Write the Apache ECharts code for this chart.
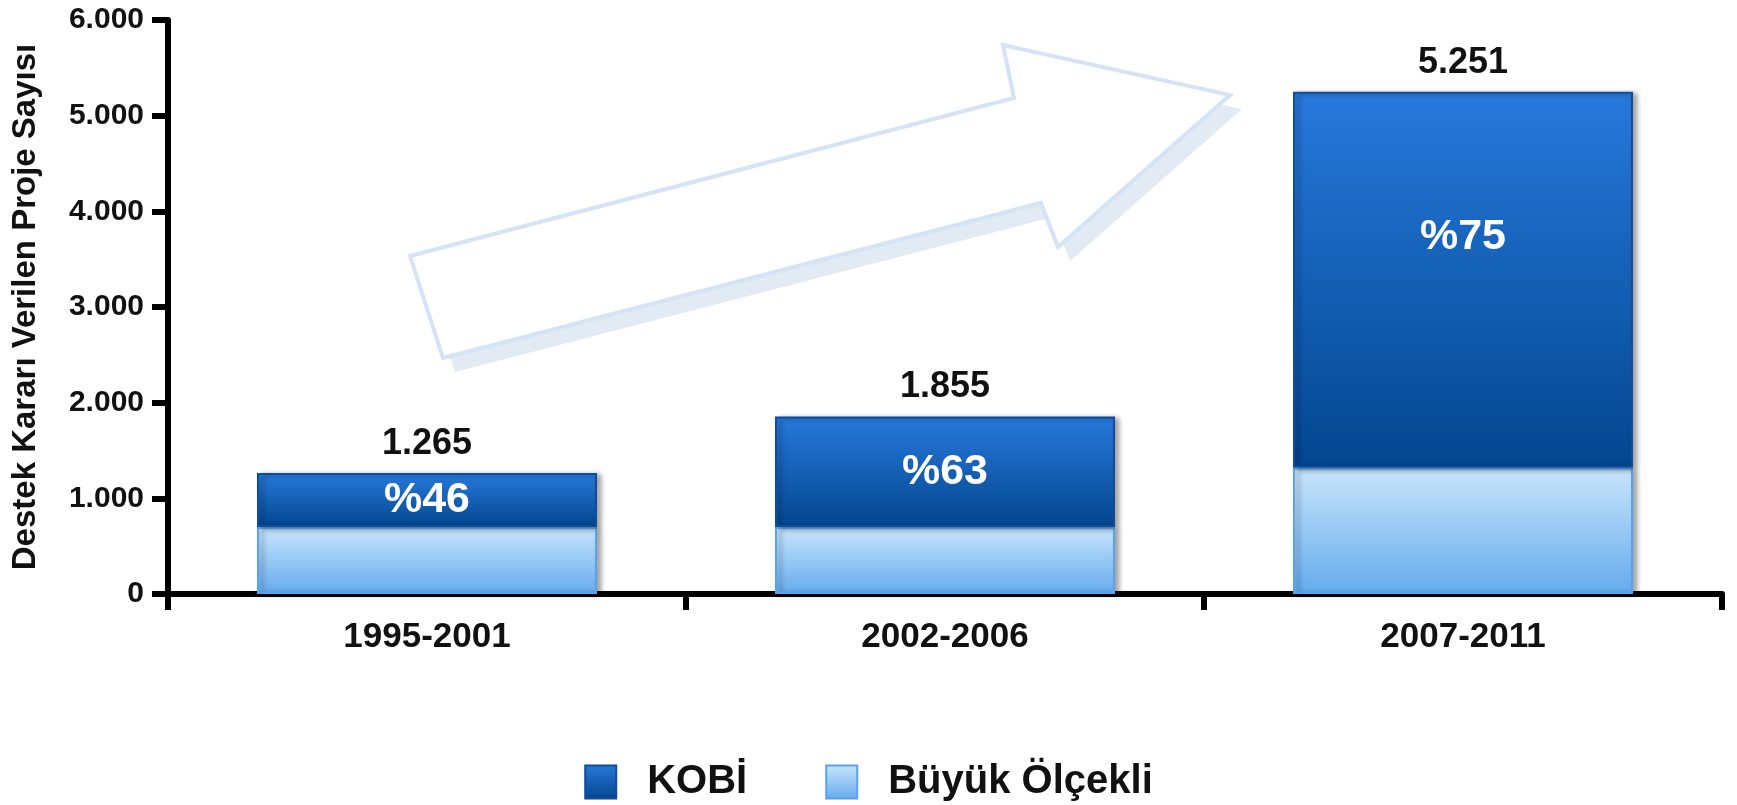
<!DOCTYPE html>
<html>
<head>
<meta charset="utf-8">
<script src="https://cdn.jsdelivr.net/npm/echarts@6/dist/echarts.min.js"></script>
<style>
  html, body { margin: 0; padding: 0; background: #fff; }
  #chart { width: 1737px; height: 805px; }
</style>
</head>
<body>
<div id="chart"></div>
<script>
var categories = ['1995-2001', '2002-2006', '2007-2011'];
var kobiValues = [565, 1155, 3931];
var buyukValues = [700, 700, 1320];
var kobiShares = [46, 63, 75];
var yTicks = [0, 1000, 2000, 3000, 4000, 5000, 6000];

var FONT = 'Liberation Sans, Arial, sans-serif';

function fmt(n) {
    // 1265 -> 1.265
    return String(n).replace(/\B(?=(\d{3})+(?!\d))/g, '.');
}

var totals = categories.map(function (c, i) {
    return kobiValues[i] + buyukValues[i];
});

var dom = document.getElementById('chart');
var myChart = echarts.init(dom, null, { renderer: 'canvas' });

var kobiColor = new echarts.graphic.LinearGradient(0, 0, 0, 1, [
    { offset: 0, color: '#2779dc' },
    { offset: 1, color: '#03468f' }
]);
var buyukColor = new echarts.graphic.LinearGradient(0, 0, 0, 1, [
    { offset: 0, color: '#c9e5fb' },
    { offset: 1, color: '#64abed' }
]);

// percent label inside the KOBI segment
var kobiData = kobiValues.map(function (v, i) {
    var item = { value: v };
    if (i === 2) {
        item.label = { position: 'insideTop', distance: 124 };
    }
    return item;
});

var option = {
    backgroundColor: '#fff',
    animation: false,
    grid: {
        left: 168,
        right: 15,
        top: 20,
        bottom: 211
    },
    legend: {
        data: ['KOBİ', 'Büyük Ölçekli'],
        left: 'center',
        top: 757,
        icon: 'rect',
        itemWidth: 31,
        itemHeight: 33,
        itemGap: 78,
        textStyle: {
            fontFamily: FONT,
            fontWeight: 'bold',
            fontSize: 40,
            color: '#111',
            padding: [0, 0, 0, 26]
        }
    },
    graphic: [
        {
            // arrow shadow
            type: 'polygon',
            z: 0,
            shape: {
                points: [[422, 270], [1026, 112], [1015, 59], [1242, 109], [1070, 261], [1053, 217], [455, 372]]
            },
            style: { fill: '#e2eaf3' }
        },
        {
            type: 'polygon',
            z: 1,
            shape: {
                points: [[410, 256], [1014, 98], [1003, 45], [1230, 95], [1058, 247], [1041, 203], [443, 358]]
            },
            style: { fill: '#ffffff', stroke: '#d4e4f6', lineWidth: 4 }
        }
    ],
    xAxis: {
        type: 'category',
        data: categories,
        axisLine: { lineStyle: { color: '#000', width: 6 } },
        axisTick: { show: true, length: 16, lineStyle: { color: '#000', width: 6 } },
        axisLabel: {
            fontFamily: FONT,
            fontWeight: 'bold',
            fontSize: 35,
            color: '#111',
            margin: 26
        }
    },
    yAxis: {
        type: 'value',
        min: yTicks[0],
        max: yTicks[yTicks.length - 1],
        interval: 1000,
        name: 'Destek Kararı Verilen Proje Sayısı',
        nameLocation: 'middle',
        nameGap: 126,
        nameTextStyle: {
            fontFamily: FONT,
            fontWeight: 'bold',
            fontSize: 33,
            color: '#111'
        },
        axisLine: { show: true, lineStyle: { color: '#000', width: 6 } },
        axisTick: { show: true, length: 16, lineStyle: { color: '#000', width: 6 } },
        splitLine: { show: false },
        axisLabel: {
            fontFamily: FONT,
            fontWeight: 'bold',
            fontSize: 30,
            color: '#111',
            margin: 24,
            formatter: function (v) { return fmt(v); }
        }
    },
    series: [
        {
            name: 'Büyük Ölçekli',
            type: 'bar',
            stack: 'total',
            barWidth: 340,
            data: buyukValues,
            itemStyle: {
                color: buyukColor,
                borderColor: '#5aa2ea',
                borderWidth: 2,
                shadowColor: 'rgba(0,0,0,0.35)',
                shadowBlur: 5,
                shadowOffsetX: 4,
                shadowOffsetY: 1
            }
        },
        {
            name: 'KOBİ',
            type: 'bar',
            stack: 'total',
            barWidth: 340,
            data: kobiData,
            itemStyle: {
                color: kobiColor,
                borderColor: '#0f4d9c',
                borderWidth: 2,
                shadowColor: 'rgba(0,0,0,0.35)',
                shadowBlur: 5,
                shadowOffsetX: 4,
                shadowOffsetY: 1
            },
            label: {
                show: true,
                position: 'inside',
                fontFamily: FONT,
                fontWeight: 'bold',
                fontSize: 43,
                color: '#fff',
                formatter: function (p) { return '%' + kobiShares[p.dataIndex]; }
            }
        },
        {
            // invisible segment carrying the total label
            name: 'Toplam',
            type: 'bar',
            stack: 'total',
            barWidth: 340,
            silent: true,
            data: totals.map(function () { return 0; }),
            itemStyle: { color: 'transparent' },
            label: {
                show: true,
                position: 'top',
                distance: 11,
                fontFamily: FONT,
                fontWeight: 'bold',
                fontSize: 36,
                color: '#111',
                formatter: function (p) { return fmt(totals[p.dataIndex]); }
            }
        }
    ]
};

myChart.setOption(option);
window.addEventListener('resize', myChart.resize);
</script>
</body>
</html>
